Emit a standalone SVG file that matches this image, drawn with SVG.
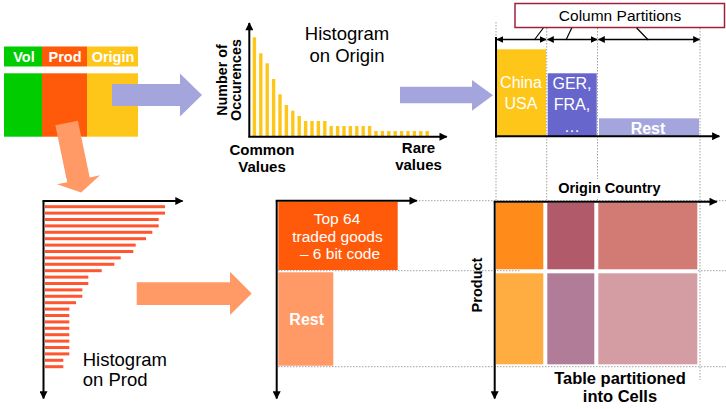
<svg xmlns="http://www.w3.org/2000/svg" width="726" height="409" viewBox="0 0 726 409">
<defs>
<style>
text{font-family:"Liberation Sans",Arial,sans-serif;}
.b{font-weight:bold;}
.w{fill:#fff;}
.axis{stroke:#000;stroke-width:2;fill:none;marker-end:url(#ah);}
.dim{stroke:#000;stroke-width:1.4;fill:none;marker-start:url(#dh);marker-end:url(#dh);}
.dot{stroke:#a0a0a0;stroke-width:1;stroke-dasharray:1.5 1.5;fill:none;}
.ob{fill:#FFC61A;}
.pb{fill:#FF5530;}
</style>
<marker id="ah" viewBox="0 0 10 10" refX="9" refY="5" markerWidth="9" markerHeight="8" markerUnits="userSpaceOnUse" orient="auto"><path d="M0,0 L10,5 L0,10 z" fill="#000"/></marker>
<marker id="dh" viewBox="0 0 10 10" refX="9" refY="5" markerWidth="7" markerHeight="7" markerUnits="userSpaceOnUse" orient="auto-start-reverse"><path d="M0,0 L10,5 L0,10 z" fill="#000"/></marker>
</defs>
<rect width="726" height="409" fill="#fff"/>

<!-- dotted guide lines -->
<g id="guides">
<line class="dot" x1="496" y1="22" x2="496" y2="200"/>
<line class="dot" x1="546.7" y1="28" x2="546.7" y2="200"/>
<line class="dot" x1="597.5" y1="28" x2="597.5" y2="200"/>
<line class="dot" x1="700" y1="28" x2="700" y2="380"/>
<line class="dot" x1="278" y1="200.7" x2="726" y2="200.7"/>
<line class="dot" x1="278" y1="270.7" x2="520" y2="270.7"/>
<line class="dot" x1="698" y1="270.7" x2="726" y2="270.7"/>
<line class="dot" x1="278" y1="366.7" x2="726" y2="366.7"/>
</g>

<!-- source table -->
<g id="table">
<rect x="4" y="46.5" width="38" height="20" fill="#00CC00"/>
<rect x="42" y="46.5" width="45" height="20" fill="#FF5A0A"/>
<rect x="87" y="46.5" width="51" height="20" fill="#FFC61A"/>
<text class="b w" x="24" y="62" font-size="14.5" text-anchor="middle">Vol</text>
<text class="b w" x="65" y="62" font-size="14.5" text-anchor="middle">Prod</text>
<text class="b w" x="113" y="62" font-size="14.5" text-anchor="middle">Origin</text>
<rect x="4" y="73.3" width="38" height="63.4" fill="#00CC00"/>
<rect x="42" y="73.3" width="45" height="63.4" fill="#FF5A0A"/>
<rect x="87" y="73.3" width="51" height="63.4" fill="#FFC61A"/>
</g>

<!-- block arrows -->
<g id="connectors">
<polygon points="112,84 180,84 180,73.5 202,95 180,116.5 180,106 112,106" fill="#A5A5DE"/>
<polygon points="400,86.7 472,86.7 472,80 493,95.3 472,110.7 472,103.3 400,103.3" fill="#A5A5DE"/>
<polygon transform="translate(66.6,123) rotate(-11.8)" points="-11.5,0 11.5,0 11.5,58 22,58 0,71 -22,58 -11.5,58" fill="#FF9966"/>
<polygon points="136.7,282.3 230,282.3 230,271.7 251.7,293.5 230,315 230,305 136.7,305" fill="#FF9966"/>
</g>

<!-- histogram on origin -->
<g id="hist-origin">
<g>
<rect class="ob" x="252.7" y="37.3" width="3.4" height="98.7"/>
<rect class="ob" x="259.1" y="53.3" width="3.4" height="82.7"/>
<rect class="ob" x="265.5" y="63.3" width="3.4" height="72.7"/>
<rect class="ob" x="271.9" y="79" width="3.4" height="57"/>
<rect class="ob" x="278.3" y="94.3" width="3.4" height="41.7"/>
<rect class="ob" x="284.7" y="105" width="3.4" height="31"/>
<rect class="ob" x="291.1" y="110.7" width="3.4" height="25.3"/>
<rect class="ob" x="297.5" y="116" width="3.4" height="20"/>
<rect class="ob" x="303.9" y="121" width="3.4" height="15"/>
<rect class="ob" x="310.3" y="121" width="3.4" height="15"/>
<rect class="ob" x="316.7" y="121" width="3.4" height="15"/>
<rect class="ob" x="323.1" y="121" width="3.4" height="15"/>
<rect class="ob" x="329.5" y="126" width="3.4" height="10"/>
<rect class="ob" x="335.9" y="126" width="3.4" height="10"/>
<rect class="ob" x="342.3" y="126" width="3.4" height="10"/>
<rect class="ob" x="348.7" y="126" width="3.4" height="10"/>
<rect class="ob" x="355.1" y="126" width="3.4" height="10"/>
<rect class="ob" x="361.5" y="126" width="3.4" height="10"/>
<rect class="ob" x="367.9" y="126" width="3.4" height="10"/>
<rect class="ob" x="374.3" y="131" width="3.4" height="5"/>
<rect class="ob" x="380.7" y="131" width="3.4" height="5"/>
<rect class="ob" x="387.1" y="131" width="3.4" height="5"/>
<rect class="ob" x="393.5" y="131" width="3.4" height="5"/>
<rect class="ob" x="399.9" y="131" width="3.4" height="5"/>
<rect class="ob" x="406.3" y="131" width="3.4" height="5"/>
<rect class="ob" x="412.7" y="131" width="3.4" height="5"/>
<rect class="ob" x="419.1" y="131" width="3.4" height="5"/>
<rect class="ob" x="425.5" y="131" width="3.4" height="5"/>
</g>
<line class="axis" x1="249.3" y1="136.7" x2="249.3" y2="23"/>
<line class="axis" x1="248.3" y1="136.7" x2="446.7" y2="136.7"/>
<text class="b" transform="translate(226.5,80) rotate(-90)" font-size="14.3" text-anchor="middle">Number of</text>
<text class="b" transform="translate(240.5,80) rotate(-90)" font-size="14.3" text-anchor="middle">Occurences</text>
<text x="347" y="40" font-size="18.5" text-anchor="middle">Histogram</text>
<text x="347" y="62" font-size="18.5" text-anchor="middle">on Origin</text>
<text class="b" x="262" y="155" font-size="15" text-anchor="middle">Common</text>
<text class="b" x="262" y="172" font-size="15" text-anchor="middle">Values</text>
<text class="b" x="418.5" y="153" font-size="15" text-anchor="middle">Rare</text>
<text class="b" x="418.5" y="170" font-size="15" text-anchor="middle">values</text>
</g>

<!-- column partitions -->
<g id="col-partitions">
<rect x="515" y="3.5" width="209.5" height="24" fill="#fff" stroke="#A0203C" stroke-width="1.5"/>
<text x="620" y="21" font-size="15.5" text-anchor="middle">Column Partitions</text>
<line x1="543.3" y1="28" x2="534.3" y2="40" stroke="#000" stroke-width="1.2"/>
<line x1="571.7" y1="28" x2="566" y2="40" stroke="#000" stroke-width="1.2"/>
<line x1="636.7" y1="28" x2="648.3" y2="40" stroke="#000" stroke-width="1.2"/>
<line class="dim" x1="497" y1="39.5" x2="546" y2="39.5"/>
<line class="dim" x1="547.5" y1="39.5" x2="597" y2="39.5"/>
<line class="dim" x1="598.5" y1="39.5" x2="699.5" y2="39.5"/>
</g>

<!-- origin partitions chart -->
<g id="origin-partitions">
<rect x="496.7" y="49.3" width="49.3" height="87" fill="#FFC61A"/>
<rect x="547.7" y="73.3" width="49" height="63" fill="#6666CC"/>
<rect x="599" y="118.3" width="100" height="18" fill="#A5A5DE"/>
<text class="w" x="521" y="88" font-size="16" text-anchor="middle">China</text>
<text class="w" x="521" y="108.5" font-size="16" text-anchor="middle">USA</text>
<text class="w" x="572" y="88.5" font-size="16" text-anchor="middle">GER,</text>
<text class="w" x="572" y="110" font-size="16" text-anchor="middle">FRA,</text>
<text class="w" x="572" y="132" font-size="16" text-anchor="middle">…</text>
<text class="b w" x="648" y="133.5" font-size="16" text-anchor="middle">Rest</text>
<line x1="496" y1="37" x2="496" y2="137.5" stroke="#000" stroke-width="2"/>
<line class="axis" x1="495" y1="136.3" x2="719.3" y2="136.3"/>
</g>

<!-- histogram on prod -->
<g id="hist-prod">
<g>
<rect class="pb" x="45" y="205.2" width="120" height="3"/>
<rect class="pb" x="45" y="211.6" width="120" height="3"/>
<rect class="pb" x="45" y="218" width="113.7" height="3"/>
<rect class="pb" x="45" y="224.4" width="113.7" height="3"/>
<rect class="pb" x="45" y="230.8" width="107.3" height="3"/>
<rect class="pb" x="45" y="237.2" width="101" height="3"/>
<rect class="pb" x="45" y="243.6" width="90.7" height="3"/>
<rect class="pb" x="45" y="250" width="88.3" height="3"/>
<rect class="pb" x="45" y="256.4" width="75.7" height="3"/>
<rect class="pb" x="45" y="262.8" width="69.3" height="3"/>
<rect class="pb" x="45" y="269.2" width="56.7" height="3"/>
<rect class="pb" x="45" y="275.6" width="43.3" height="3"/>
<rect class="pb" x="45" y="282" width="43.3" height="3"/>
<rect class="pb" x="45" y="288.4" width="37.3" height="3"/>
<rect class="pb" x="45" y="294.8" width="37.3" height="3"/>
<rect class="pb" x="45" y="301.2" width="31" height="3"/>
<rect class="pb" x="45" y="307.6" width="24.3" height="3"/>
<rect class="pb" x="45" y="314" width="24.3" height="3"/>
<rect class="pb" x="45" y="320.4" width="24.3" height="3"/>
<rect class="pb" x="45" y="326.8" width="24.3" height="3"/>
<rect class="pb" x="45" y="333.2" width="24.3" height="3"/>
<rect class="pb" x="45" y="339.6" width="24.3" height="3"/>
<rect class="pb" x="45" y="346" width="24.3" height="3"/>
<rect class="pb" x="45" y="352.4" width="24.3" height="3"/>
<rect class="pb" x="45" y="358.8" width="18.3" height="3"/>
<rect class="pb" x="45" y="365.2" width="18.3" height="3"/>
</g>
<line class="axis" x1="43.5" y1="201" x2="43.5" y2="398.5"/>
<line class="axis" x1="42.5" y1="201" x2="182.5" y2="201"/>
<text x="82.7" y="366" font-size="18.5">Histogram</text>
<text x="82.7" y="386" font-size="18.5">on Prod</text>
</g>

<!-- product partitions -->
<g id="product-partitions">
<rect x="278.3" y="201.7" width="119.4" height="68.3" fill="#FF5A0A"/>
<rect x="278.3" y="272.3" width="55" height="93.4" fill="#FF9966"/>
<text class="w" x="337" y="224" font-size="15.5" text-anchor="middle">Top 64</text>
<text class="w" x="337.5" y="241.7" font-size="15.5" text-anchor="middle">traded goods</text>
<text class="w" x="340" y="259" font-size="15.5" text-anchor="middle">– 6 bit code</text>
<text class="b w" x="306.7" y="324.5" font-size="16" text-anchor="middle">Rest</text>
<line class="axis" x1="276.7" y1="200.7" x2="276.7" y2="398.5"/>
<line class="axis" x1="275.7" y1="200.7" x2="416.7" y2="200.7"/>
</g>

<!-- cells -->
<g id="cells">
<rect x="496" y="202.7" width="47.3" height="66.6" fill="#FF8C1A"/>
<rect x="547.3" y="202.7" width="47" height="66.6" fill="#B05A6A"/>
<rect x="598.3" y="202.7" width="99" height="66.6" fill="#D27A74"/>
<rect x="496" y="273.3" width="47.3" height="91" fill="#FFAD40"/>
<rect x="547.3" y="273.3" width="47" height="91" fill="#B07C98"/>
<rect x="598.3" y="273.3" width="99" height="91" fill="#D49DA4"/>
<line class="axis" x1="494.7" y1="201.7" x2="494.7" y2="398.5"/>
<line class="axis" x1="493.7" y1="201.7" x2="716.7" y2="201.7"/>
<rect x="555" y="179" width="109" height="18" fill="#fff"/>
<text class="b" x="609.3" y="193.3" font-size="14.5" text-anchor="middle">Origin Country</text>
<text class="b" transform="translate(481.5,285) rotate(-90)" font-size="14.5" text-anchor="middle">Product</text>
<text class="b" x="620" y="384" font-size="16.5" text-anchor="middle">Table partitioned</text>
<text class="b" x="620" y="401.5" font-size="16.5" text-anchor="middle">into Cells</text>
</g>
</svg>
